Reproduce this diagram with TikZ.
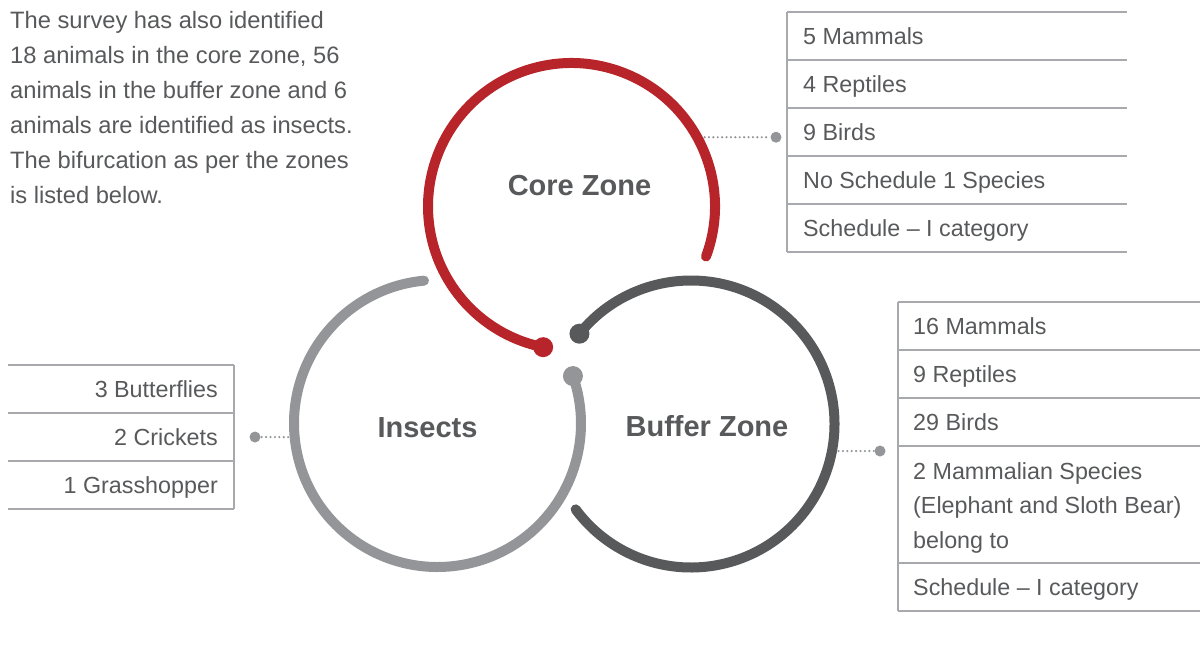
\documentclass[tikz,border=0pt]{standalone}
\usepackage{fontspec}
\setmainfont{Liberation Sans}
\usepackage{xcolor}
\definecolor{zonered}{HTML}{B7252A}
\definecolor{zonedark}{HTML}{58595B}
\definecolor{zonelight}{HTML}{939598}
\definecolor{txtgray}{HTML}{58595B}
\definecolor{rulegray}{HTML}{A7A9AC}
\usepackage{tikz}
\usetikzlibrary{calc}

\begin{document}
\begin{tikzpicture}[x=1pt, y=1pt,
    zonearc/.style={line width=10pt, line cap=round},
    zonelabel/.style={anchor=base, inner sep=0pt, text=zonedark, font=\fontsize{29}{34}\selectfont\bfseries},
    celltext/.style={anchor=base west, inner sep=0pt, text=txtgray, font=\fontsize{23.3}{34.5}\selectfont},
    cellrule/.style={draw=rulegray, line width=1.1pt},
    enddot/.style={circle, fill=zonelight, inner sep=0pt, minimum size=11pt},
    linkline/.style={zonelight, line width=2.4pt, line cap=round, dash pattern=on 0pt off 4.4pt}]
  \useasboundingbox (0,0) rectangle (1200,-657);

  % intro text
  \node[anchor=north west, inner sep=0pt, align=left, text=txtgray,
        font=\fontsize{23.7}{35}\selectfont] (intro) at (10,-11.2)
    {The survey has also identified\\
     18 animals in the core zone, 56\\
     animals in the buffer zone and 6\\
     animals are identified as insects.\\
     The bifurcation as per the zones\\
     is listed below.};

  % --- Circle centres ---
  \coordinate (corec) at (571.5,-206.5);
  \coordinate (bufc)  at (691,-424);
  \coordinate (insc)  at (437.5,-423.5);

  % --- Core Zone ---
  \draw[zonearc, zonered] (corec) ++(-20.4:143.5) arc[start angle=-20.4, end angle=258.6, radius=143.5];
  \fill[zonered] ($(corec)+(258.6:143.5)$) circle (10);
  \node[zonelabel] (corelabel) at (579.5,-195) {Core Zone};

  % --- Buffer Zone ---
  \draw[zonearc, zonedark] (bufc) ++(141:143.5) arc[start angle=141, end angle=-143.5, radius=143.5];
  \fill[zonedark] ($(bufc)+(141:143.5)$) circle (10);
  \node[zonelabel] (buflabel) at (707,-436) {Buffer Zone};

  % --- Insects ---
  \draw[zonearc, zonelight] (insc) ++(95.4:143.5) arc[start angle=95.4, end angle=379.3, radius=143.5];
  \fill[zonelight] ($(insc)+(19.3:143.5)$) circle (10);
  \node[zonelabel] (inslabel) at (427.5,-437) {Insects};

  % --- Links to the tables ---
  \coordinate (corelink) at ($(corec)+(27.5:150)$);
  \node[enddot] (coredot) at (776,-137.2) {};
  \draw[linkline] (corelink) -- (coredot);

  \coordinate (buflink) at ($(bufc)+(-10.4:150)$);
  \node[enddot] (bufdot) at (880,-451) {};
  \draw[linkline] (buflink) -- (bufdot);

  \coordinate (inslink) at ($(insc)+(185.2:150)$);
  \node[enddot] (insdot) at (255,-437) {};
  \draw[linkline] (inslink) -- (insdot);

  % --- Core table ---
  \draw[cellrule] (787,-12) -- (787,-252);
  \draw[cellrule] (787,-12) -- (1127,-12);
  \draw[cellrule] (787,-60) -- (1127,-60);
  \draw[cellrule] (787,-108) -- (1127,-108);
  \draw[cellrule] (787,-156) -- (1127,-156);
  \draw[cellrule] (787,-204) -- (1127,-204);
  \draw[cellrule] (787,-252) -- (1127,-252);
  \node[celltext] (core1) at (803,-44.5) {5 Mammals};
  \node[celltext] (core2) at (803,-92.5) {4 Reptiles};
  \node[celltext] (core3) at (803,-140.5) {9 Birds};
  \node[celltext] (core4) at (803,-188.5) {No Schedule 1 Species};
  \node[celltext] (core5) at (803,-236.5) {Schedule -- I category};

  % --- Buffer table ---
  \draw[cellrule] (898,-302) -- (898,-611);
  \draw[cellrule] (898,-302) -- (1200,-302);
  \draw[cellrule] (898,-350) -- (1200,-350);
  \draw[cellrule] (898,-398) -- (1200,-398);
  \draw[cellrule] (898,-446) -- (1200,-446);
  \draw[cellrule] (898,-563) -- (1200,-563);
  \draw[cellrule] (898,-611) -- (1200,-611);
  \node[celltext] (buf1) at (913,-334.5) {16 Mammals};
  \node[celltext] (buf2) at (913,-382.5) {9 Reptiles};
  \node[celltext] (buf3) at (913,-430.5) {29 Birds};
  \node[celltext, anchor=north west, align=left] (buf4) at (913,-462.2)
    {2 Mammalian Species\\(Elephant and Sloth Bear)\\belong to};
  \node[celltext] (buf5) at (913,-595.5) {Schedule -- I category};

  % --- Insects table ---
  \draw[cellrule] (234,-365) -- (234,-509);
  \draw[cellrule] (8,-365) -- (234,-365);
  \draw[cellrule] (8,-413) -- (234,-413);
  \draw[cellrule] (8,-461) -- (234,-461);
  \draw[cellrule] (8,-509) -- (234,-509);
  \node[celltext, anchor=base east] (ins1) at (218,-397.5) {3 Butterflies};
  \node[celltext, anchor=base east] (ins2) at (218,-445.5) {2 Crickets};
  \node[celltext, anchor=base east] (ins3) at (218,-493.5) {1 Grasshopper};
\end{tikzpicture}
\end{document}
